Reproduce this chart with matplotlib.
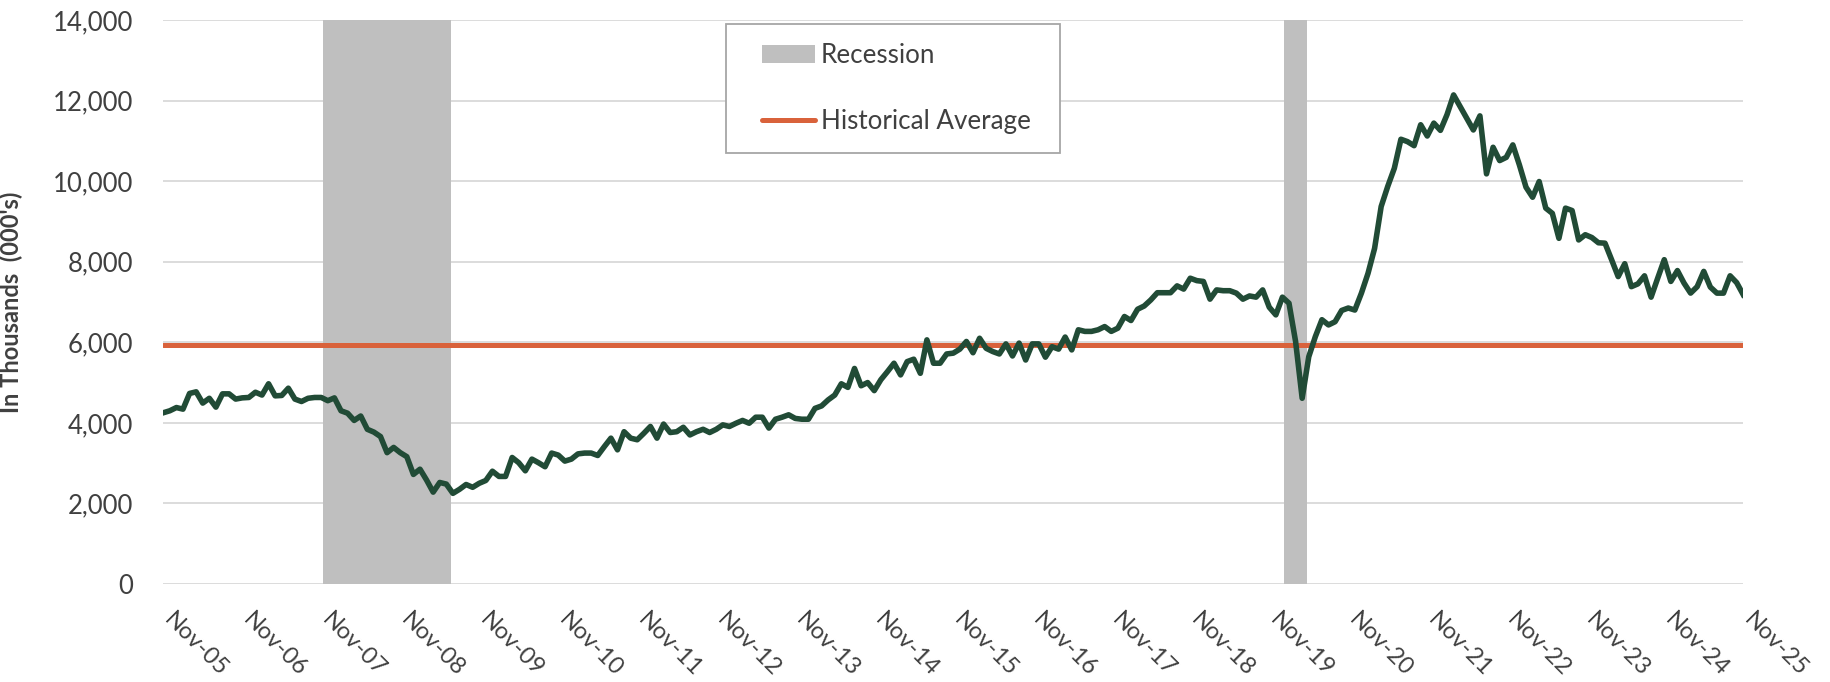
import matplotlib.pyplot as plt
from matplotlib.patches import Patch, Rectangle
from matplotlib.lines import Line2D

plt.rcParams['font.family'] = ['Lato', 'DejaVu Sans']

# monthly job openings (thousands), Nov-05 .. Nov-25
openings = [
    4250, 4300, 4380, 4340, 4730, 4770, 4490, 4610, 4390, 4720,
    4720, 4590, 4620, 4630, 4760, 4690, 4970, 4670, 4680, 4860,
    4590, 4530, 4610, 4630, 4630, 4550, 4620, 4300, 4240, 4060,
    4170, 3840, 3770, 3660, 3260, 3390, 3260, 3160, 2720, 2850,
    2580, 2280, 2520, 2480, 2250, 2350, 2470, 2400, 2500, 2570,
    2800, 2670,
    2670, 3140, 3010, 2810, 3100, 3010, 2910, 3250, 3200, 3050,
    3100, 3230, 3250, 3250, 3190, 3410, 3620, 3330, 3780, 3620,
    3580, 3740, 3910, 3620, 3970, 3760, 3780, 3890, 3700, 3780,
    3840, 3760, 3840, 3950, 3910, 3990, 4060, 3990, 4140, 4140,
    3870, 4090, 4140, 4200, 4110, 4090, 4090, 4360, 4420, 4570,
    4690, 4970, 4880, 5350, 4920, 5000, 4800, 5070, 5270, 5480,
    5190, 5520, 5580, 5230, 6060, 5480, 5480, 5710, 5730, 5830,
    6020, 5740, 6100, 5850, 5770, 5710, 5960, 5660, 5980, 5560,
    5960, 5960, 5630, 5890, 5830, 6130, 5810, 6310, 6270, 6270,
    6310, 6390, 6270, 6350, 6640, 6540, 6820, 6900, 7050, 7230,
    7230, 7230, 7400, 7320, 7590, 7530, 7510, 7070, 7300, 7280,
    7280, 7220, 7070, 7150, 7120, 7300, 6870, 6680, 7120, 6970,
    6020, 4610, 5640, 6140, 6560, 6430, 6510, 6790, 6850, 6800,
    7220, 7710, 8330, 9370, 9870, 10320, 11040, 10980, 10880, 11400,
    11120, 11440, 11260, 11650, 12140, 11850, 11560, 11270, 11620, 10180,
    10840, 10510, 10590, 10900, 10400, 9850, 9600, 9990, 9330, 9200,
    8580, 9330, 9270, 8540, 8670, 8600, 8470, 8460, 8050, 7630,
    7950, 7380, 7450, 7650, 7120, 7590, 8050, 7510, 7780, 7470,
    7220, 7380, 7760, 7370, 7220, 7220, 7650, 7480, 7180,
]
historical_avg = 5920
# recession months as index from Nov-05 (Dec-07..Jun-09, Feb-20..Apr-20)
recessions = [(25, 43), (171, 173)]
tick_labels = ['Nov-%02d' % y for y in range(5, 26)]

green = '#214b36'
orange = '#d9623b'
gray = '#bfbfbf'
text_col = '#404040'

fig = plt.figure(figsize=(18.3, 6.82), dpi=100)
ax = fig.add_axes([0.0892, 0.1437, 0.8634, 0.8270])

for start, end in recessions:
    ax.axvspan(start - 0.75, end + 0.75, color=gray, lw=0, zorder=1)
ax.axhline(historical_avg, color=orange, lw=3.6, zorder=3, solid_capstyle='round')
ax.plot(range(len(openings)), openings, color=green, lw=4.0, zorder=4,
        solid_joinstyle='round')

ax.set_xlim(0, len(openings) - 1)
ax.set_ylim(0, 14000)
yt = list(range(0, 14001, 2000))
ax.set_yticks(yt)
ax.set_yticklabels(['{:,}'.format(v) for v in yt])
ax.set_xticks(range(0, len(openings), 12))
ax.set_xticklabels(tick_labels, rotation=-45, ha='left', va='baseline',
                   rotation_mode='anchor')

ax.set_axisbelow(True)
ax.grid(axis='y', color='#d9d9d9', lw=1.3)
for s in ax.spines.values():
    s.set_visible(False)
ax.tick_params(length=0, colors=text_col)
ax.tick_params(axis='y', labelsize=18.5, pad=21.5)
ax.tick_params(axis='x', labelsize=17, pad=26.5)

ax.set_ylabel("In Thousands  (000's)", fontsize=17, fontweight='bold', color=text_col)
ax.yaxis.set_label_coords(-0.0885, 0.5)

# legend box drawn separately so the padding matches
ax.add_patch(Rectangle((0.3561, 0.7647), 0.2114, 0.2282, transform=ax.transAxes,
                       facecolor='white', edgecolor='#a6a6a6', lw=1.3, zorder=5))
handles = [Patch(facecolor=gray, edgecolor='none'),
           Line2D([], [], color=orange, lw=3.6, solid_capstyle='round')]
leg = ax.legend(handles, ['Recession', 'Historical Average'], loc='upper left',
                bbox_to_anchor=(0.3787, 0.9592), borderaxespad=0, borderpad=0,
                frameon=False, fontsize=18.7, labelspacing=1.58,
                handlelength=2.07, handleheight=0.73, handletextpad=0.2,
                labelcolor=text_col)
leg.set_zorder(6)

fig.savefig('out.png', dpi=100)
